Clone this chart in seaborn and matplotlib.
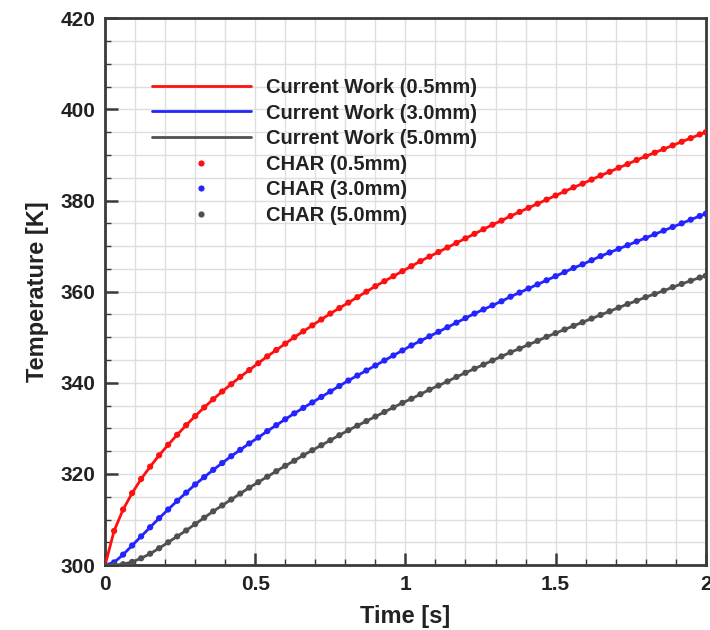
import numpy as np
import pandas as pd
import matplotlib
matplotlib.use("Agg")
import matplotlib.pyplot as plt
from matplotlib.ticker import MultipleLocator, FuncFormatter
import seaborn as sns

# Sampling times [s]: every 0.03 s, closing at 2.0 s
time_s = [round(0.03 * i, 2) for i in range(67)] + [2.00]

# Temperature histories [K] at three depths
temp_05mm = [
    300.0, 307.5, 312.2, 315.8, 318.9, 321.6, 324.1, 326.4, 328.6, 330.7,
    332.7, 334.6, 336.4, 338.1, 339.7, 341.3, 342.8, 344.3, 345.8, 347.2,
    348.6, 350.0, 351.3, 352.6, 353.9, 355.2, 356.4, 357.6, 358.8, 360.0,
    361.2, 362.3, 363.4, 364.5, 365.6, 366.7, 367.7, 368.7, 369.7, 370.7,
    371.7, 372.7, 373.7, 374.7, 375.6, 376.6, 377.5, 378.4, 379.3, 380.2,
    381.1, 382.0, 382.9, 383.7, 384.6, 385.5, 386.3, 387.2, 388.0, 388.9,
    389.7, 390.5, 391.3, 392.1, 392.9, 393.7, 394.5, 395.0,
]
temp_30mm = [
    300.0, 300.6, 302.3, 304.3, 306.3, 308.3, 310.3, 312.2, 314.1, 315.9,
    317.7, 319.3, 320.9, 322.4, 323.9, 325.3, 326.7, 328.0, 329.4, 330.7,
    332.0, 333.3, 334.5, 335.7, 336.9, 338.1, 339.3, 340.5, 341.6, 342.7,
    343.8, 344.9, 346.0, 347.1, 348.2, 349.2, 350.2, 351.2, 352.2, 353.2,
    354.2, 355.2, 356.1, 357.0, 357.9, 358.9, 359.8, 360.7, 361.6, 362.5,
    363.4, 364.3, 365.2, 366.0, 366.9, 367.8, 368.6, 369.4, 370.2, 371.0,
    371.8, 372.6, 373.4, 374.2, 375.0, 375.8, 376.6, 377.1,
]
temp_50mm = [
    300.0, 300.0, 300.2, 300.7, 301.5, 302.5, 303.7, 305.0, 306.3, 307.6,
    309.0, 310.4, 311.8, 313.1, 314.4, 315.7, 317.0, 318.2, 319.4, 320.6,
    321.8, 322.9, 324.1, 325.2, 326.3, 327.4, 328.5, 329.6, 330.6, 331.6,
    332.6, 333.6, 334.6, 335.6, 336.5, 337.5, 338.5, 339.4, 340.3, 341.3,
    342.2, 343.1, 344.0, 344.9, 345.8, 346.7, 347.5, 348.4, 349.2, 350.1,
    350.9, 351.7, 352.5, 353.3, 354.1, 354.9, 355.7, 356.5, 357.3, 358.0,
    358.8, 359.5, 360.2, 361.0, 361.7, 362.4, 363.1, 363.5,
]

line_labels = ["Current Work (0.5mm)", "Current Work (3.0mm)", "Current Work (5.0mm)"]
char_labels = ["CHAR (0.5mm)", "CHAR (3.0mm)", "CHAR (5.0mm)"]
series_colors = ["#ff1010", "#2424ff", "#505050"]

x_ticks = [0, 0.5, 1, 1.5, 2]
y_ticks = [300, 320, 340, 360, 380, 400, 420]

series = [temp_05mm, temp_30mm, temp_50mm]
lines_df = pd.concat(
    [pd.DataFrame({"time": time_s, "temp": v, "label": lab})
     for v, lab in zip(series, line_labels)], ignore_index=True)
char_df = pd.concat(
    [pd.DataFrame({"time": time_s, "temp": v, "label": lab})
     for v, lab in zip(series, char_labels)], ignore_index=True)

sns.set_theme(style="white")
plt.rcParams["font.family"] = ["Liberation Sans", "DejaVu Sans"]
plt.rcParams["font.weight"] = "bold"

fig = plt.figure(figsize=(7.1, 6.3), dpi=100)
ax = fig.add_axes([0.148, 0.103, 0.846, 0.868])

sns.lineplot(data=lines_df, x="time", y="temp", hue="label",
             hue_order=line_labels, palette=series_colors,
             linewidth=2.0, ax=ax, zorder=3, estimator=None, sort=False)
sns.scatterplot(data=char_df, x="time", y="temp", hue="label",
                hue_order=char_labels, palette=series_colors,
                s=20, linewidth=0, ax=ax, zorder=4)

ax.set_xlim(x_ticks[0], x_ticks[-1])
ax.set_ylim(y_ticks[0], y_ticks[-1])
ax.set_xticks(x_ticks)
ax.set_yticks(y_ticks)
ax.xaxis.set_minor_locator(MultipleLocator(0.1))
ax.yaxis.set_minor_locator(MultipleLocator(5))
ax.xaxis.set_major_formatter(FuncFormatter(lambda v, p: f"{v:g}"))

ax.grid(which="both", color="#dedede", linewidth=1.0, zorder=0)
ax.set_axisbelow(True)

for sp in ax.spines.values():
    sp.set_color("#3a3a3a")
    sp.set_linewidth(2.0)

ax.tick_params(which="major", direction="in", length=9, width=1.8,
               color="#3a3a3a", labelsize=15, pad=7,
               top=False, right=False, bottom=True, left=True)
ax.tick_params(which="minor", direction="in", length=4.5, width=1.0,
               color="#3a3a3a", top=False, right=False, bottom=True, left=True)
for lab in ax.get_xticklabels() + ax.get_yticklabels():
    lab.set_fontweight("bold")
    lab.set_color("#222222")

ax.set_xlabel("Time [s]", fontsize=17, fontweight="bold", color="#222222", labelpad=8)
ax.set_ylabel("Temperature [K]", fontsize=17, fontweight="bold", color="#222222", labelpad=8)

handles, labels = ax.get_legend_handles_labels()
order = line_labels + char_labels
hmap = dict(zip(labels, handles))
leg = ax.legend([hmap[k] for k in order], order, loc="upper left",
                bbox_to_anchor=(0.078, 0.891), frameon=False,
                fontsize=14.5, handlelength=4.9, handletextpad=0.75,
                labelspacing=0.33, borderpad=0, borderaxespad=0,
                markerscale=1.0)
for t in leg.get_texts():
    t.set_fontweight("bold")
    t.set_color("#222222")

fig.savefig("out.png", dpi=100, facecolor="white")
